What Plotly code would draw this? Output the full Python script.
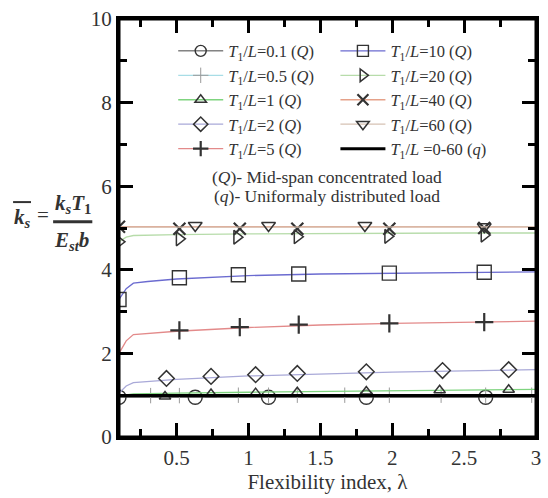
import plotly.graph_objects as go

# ---------------- data ----------------
curve_x = [0.1, 0.15, 0.2, 0.3, 0.5, 1.0, 1.5, 2.0, 2.5, 3.0]

line_01 = [0.95, 0.95, 0.95, 0.95, 0.95, 0.95, 0.95, 0.95, 0.95, 0.95]
line_05 = [0.97, 0.98, 0.99, 0.99, 0.99, 1.0, 1.0, 1.0, 1.0, 1.0]
line_1 = [0.97, 1.01, 1.03, 1.04, 1.05, 1.07, 1.09, 1.11, 1.12, 1.14]
line_2 = [1.05, 1.22, 1.30, 1.33, 1.38, 1.46, 1.51, 1.55, 1.58, 1.61]
line_5 = [2.00, 2.30, 2.45, 2.48, 2.53, 2.62, 2.68, 2.72, 2.75, 2.77]
line_10 = [3.29, 3.55, 3.68, 3.72, 3.78, 3.86, 3.90, 3.92, 3.94, 3.95]
line_20 = [4.67, 4.78, 4.82, 4.83, 4.84, 4.86, 4.87, 4.87, 4.88, 4.88]
line_40 = [5.03, 5.03, 5.03, 5.03, 5.03, 5.03, 5.03, 5.03, 5.03, 5.03]
line_60 = [5.02, 5.02, 5.02, 5.02, 5.02, 5.03, 5.03, 5.03, 5.03, 5.03]
line_q = [0.99, 0.99, 0.99, 0.99, 0.99, 0.99, 0.99, 0.99, 0.99, 0.99]

mx_01 = [0.1, 0.63, 1.14, 1.82, 2.65]
my_01 = [0.95, 0.95, 0.95, 0.95, 0.95]
mx_05 = [0.32, 0.52, 0.93, 1.14, 1.34, 1.67, 1.98, 2.34, 2.65, 2.97]
my_05 = [0.99, 0.99, 1.0, 1.0, 1.0, 1.0, 1.0, 1.0, 1.0, 1.0]
mx_1 = [0.42, 0.74, 1.05, 1.34, 1.82, 2.33, 2.81]
my_1 = [0.97, 1.03, 1.05, 1.07, 1.09, 1.12, 1.13]
mx_2 = [0.43, 0.74, 1.05, 1.34, 1.82, 2.35, 2.81]
my_2 = [1.40, 1.45, 1.49, 1.52, 1.56, 1.59, 1.61]
mx_5 = [0.52, 0.94, 1.35, 1.98, 2.64]
my_5 = [2.55, 2.63, 2.69, 2.72, 2.75]
mx_10 = [0.1, 0.52, 0.93, 1.35, 1.98, 2.64]
my_10 = [3.29, 3.81, 3.88, 3.90, 3.92, 3.94]
mx_20 = [0.1, 0.52, 0.92, 1.34, 1.97, 2.64]
my_20 = [4.67, 4.74, 4.78, 4.79, 4.80, 4.83]
mx_40 = [0.1, 0.52, 0.94, 1.34, 1.98, 2.64]
my_40 = [5.03, 4.98, 4.98, 4.98, 4.98, 5.0]
mx_60 = [0.63, 1.14, 1.81, 2.64]
my_60 = [5.06, 5.06, 5.06, 5.03]

x_ticks = [0.5, 1, 1.5, 2, 2.5, 3]
x_tick_labels = ["0.5", "1", "1.5", "2", "2.5", "3"]
y_ticks = [0, 2, 4, 6, 8, 10]
y_tick_labels = ["0", "2", "4", "6", "8", "10"]
x_range = [0.1, 3.0]
y_range = [0, 10]

FONT = "Liberation Serif"
MK = "#333333"
TXT = "#333333"


def lbl(v, load="Q", sp=""):
    return f"<i>T</i><sub>1</sub>/<i>L</i>{sp}={v} (<i>{load}</i>)"


series = [
    ("0.1", line_01, "#444444", 1.0, mx_01, my_01, "circle-open", 14, 1.4),
    ("0.5", line_05, "#a8dde6", 1.3, mx_05, my_05, "cross-thin-open", 11, 1.0),
    ("1", line_1, "#7fd47f", 1.3, mx_1, my_1, "triangle-up-open", 10, 1.5),
    ("2", line_2, "#a9a9d8", 1.3, mx_2, my_2, "diamond-open", 12, 1.5),
    ("5", line_5, "#e38a8a", 1.3, mx_5, my_5, "cross-thin-open", 13, 2.2),
    ("10", line_10, "#6b6bd0", 1.3, mx_10, my_10, "square-open", 14, 1.4),
    ("20", line_20, "#b7dcaa", 1.3, mx_20, my_20, "triangle-right-open", 12, 1.5),
    ("40", line_40, "#e5a189", 1.3, mx_40, my_40, "x-thin-open", 12, 2.2),
    ("60", line_60, "#d6c2b3", 1.3, mx_60, my_60, "triangle-down-open", 12, 1.5),
]

fig = go.Figure()

for name, ly, lc, lw, mx, my, sym, sz, mlw in series:
    col = "#9a9a9a" if name == "0.5" else MK
    fig.add_trace(go.Scatter(x=curve_x, y=ly, mode="lines",
                             line=dict(color=lc, width=lw), showlegend=False,
                             hoverinfo="skip"))
    fig.add_trace(go.Scatter(x=mx, y=my, mode="markers",
                             marker=dict(symbol=sym, size=sz, color=col,
                                         line=dict(color=col, width=mlw)),
                             showlegend=False))

fig.add_trace(go.Scatter(x=curve_x, y=line_q, mode="lines",
                         line=dict(color="black", width=3), showlegend=False))

col1 = ["0.1", "0.5", "1", "2", "5"]
col2 = ["10", "20", "40", "60"]
lookup = {s[0]: s for s in series}
for keys, lg in ((col1, "legend"), (col2, "legend2")):
    for key in keys:
        name, ly, lc, lw, mx, my, sym, sz, mlw = lookup[key]
        col = "#9a9a9a" if name == "0.5" else MK
        fig.add_trace(go.Scatter(x=[None], y=[None], mode="lines+markers",
                                 line=dict(color=lc, width=lw),
                                 marker=dict(symbol=sym, size=min(sz, 11), color=col,
                                             line=dict(color=col, width=mlw)),
                                 name=lbl(name), legend=lg))
fig.add_trace(go.Scatter(x=[None], y=[None], mode="lines",
                         line=dict(color="black", width=3),
                         name=lbl("0-60", "q", " "), legend="legend2"))

axis_common = dict(
    showline=True, linecolor="black", linewidth=3, mirror="ticks",
    ticks="inside", tickwidth=3, ticklen=14, tickcolor="black",
    showgrid=False, zeroline=False, ticklabeloverflow="allow",
    tickfont=dict(family=FONT, size=21, color=TXT),
)
xminor = dict(ticks="inside", dtick=0.25, tick0=0, ticklen=8,
              tickwidth=3, tickcolor="black")
yminor = dict(ticks="inside", dtick=1, tick0=0, ticklen=8,
              tickwidth=3, tickcolor="black")

fig.update_layout(
    xaxis=dict(range=x_range, tickmode="linear", tick0=x_ticks[0],
               dtick=x_ticks[1] - x_ticks[0], minor=xminor,
               title=dict(text="Flexibility index, λ",
                          font=dict(family=FONT, size=21, color=TXT),
                          standoff=4),
               **axis_common),
    yaxis=dict(range=y_range, tickmode="linear", tick0=y_ticks[0],
               dtick=y_ticks[1] - y_ticks[0], minor=yminor, **axis_common),
)

tf = dict(family=FONT, size=21, color=TXT)
ann = [
    dict(x=-0.232, y=0.523, text="<b><i>k</i></b><sub><b><i>s</i></b></sub>"),
    dict(x=-0.182, y=0.530, text="="),
    dict(x=-0.111, y=0.558,
         text="<b><i>k</i></b><sub><b><i>s</i></b></sub><b><i>T</i></b><sub><b>1</b></sub>"),
    dict(x=-0.114, y=0.470,
         text="<b><i>E</i></b><sub><b><i>st</i></b></sub><b><i>b</i></b>"),
    dict(x=0.499, y=0.622, text="(<i>Q</i>)- Mid-span concentrated load",
         font=dict(family=FONT, size=17.5, color=TXT)),
    dict(x=0.499, y=0.577, text="(<i>q</i>)- Uniformaly distributed load",
         font=dict(family=FONT, size=17.5, color=TXT)),
]
for a in ann:
    a.setdefault("font", tf)
    fig.add_annotation(xref="paper", yref="paper", showarrow=False,
                       xanchor="center", yanchor="middle", **a)

fig.add_shape(type="line", xref="paper", yref="paper", x0=-0.158, x1=-0.064,
              y0=0.515, y1=0.515, line=dict(color=TXT, width=3))
fig.add_shape(type="line", xref="paper", yref="paper", x0=-0.254, x1=-0.211,
              y0=0.562, y1=0.562, line=dict(color=TXT, width=2))
fig.add_shape(type="rect", xref="paper", yref="paper", x0=0, x1=1, y0=0, y1=1,
              line=dict(color="black", width=3), layer="above")

legend_common = dict(
    orientation="v", yanchor="top", xanchor="left",
    font=dict(family=FONT, size=16.5, color=TXT),
    bgcolor="rgba(0,0,0,0)", itemwidth=45, tracegroupgap=0,
)

fig.update_layout(
    width=548, height=498,
    margin=dict(l=119, r=7, t=14, b=61),
    paper_bgcolor="white", plot_bgcolor="white",
    legend=dict(x=0.130, y=0.965, **legend_common),
    legend2=dict(x=0.519, y=0.965, **legend_common),
    showlegend=True,
)

fig.write_html("out.html", config={"displayModeBar": False},
               post_script="document.body.style.margin='0';"
                           "document.body.style.overflow='hidden';")
